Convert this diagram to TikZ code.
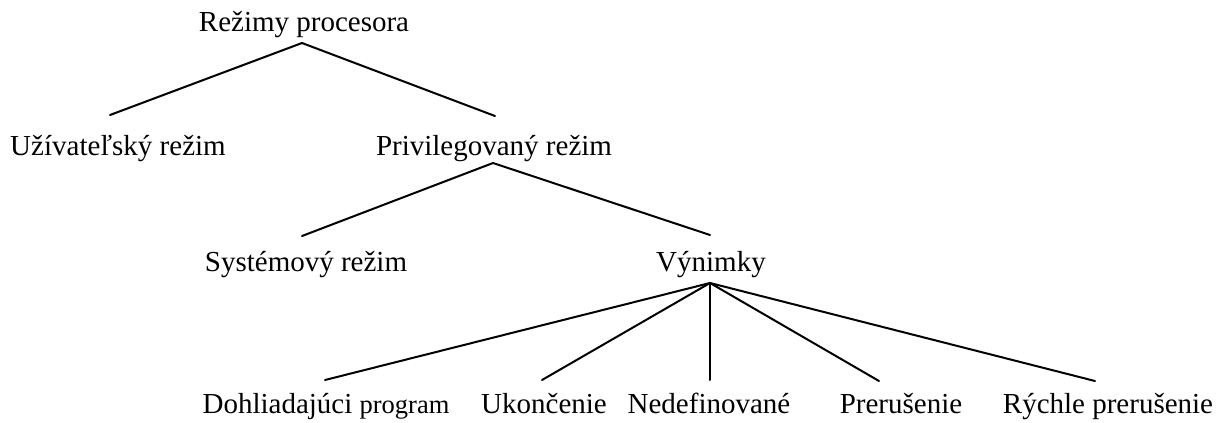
\documentclass[tikz,border=0pt]{standalone}
\usepackage{fontspec}
\setmainfont{Liberation Serif}
\begin{document}
\begin{tikzpicture}[x=1pt,y=-1pt,
  lbl/.style={inner sep=0pt,anchor=base,font=\fontsize{29}{34}\selectfont},
  link/.style={line width=2pt,line cap=round}]
\useasboundingbox (0,0) rectangle (1221,423);
% labels, placed by their baselines
\node[lbl] (root) at (304,31) {Režimy procesora};
\node[lbl] (user) at (118,155) {Užívateľský režim};
\node[lbl] (priv) at (494,155) {Privilegovaný režim};
\node[lbl] (sys)  at (306,271) {Systémový režim};
\node[lbl] (exc)  at (711,271) {Výnimky};
\node[lbl] (sup)  at (326,413) {Dohliadajúci {\fontsize{26.5}{31}\selectfont program}};
\node[lbl] (abrt) at (544,413) {Ukončenie};
\node[lbl] (und)  at (709,413) {Nedefinované};
\node[lbl] (irq)  at (901,413) {Prerušenie};
\node[lbl] (fiq)  at (1108,413) {Rýchle prerušenie};
% branches (yshift is in page direction: negative = downwards)
\draw[link] ([xshift=-2pt,yshift=-12pt]root.base) -- ([xshift=-8pt,yshift=40pt]user.base);
\draw[link] ([xshift=-2pt,yshift=-12pt]root.base) -- ([xshift=1pt,yshift=39pt]priv.base);
\draw[link] ([xshift=-1pt,yshift=-8pt]priv.base) -- ([xshift=-4pt,yshift=35pt]sys.base);
\draw[link] ([xshift=-1pt,yshift=-8pt]priv.base) -- ([xshift=-1pt,yshift=36pt]exc.base);
\draw[link] ([xshift=-1pt,yshift=-12pt]exc.base) -- ([xshift=-1pt,yshift=33pt]sup.base);
\draw[link] ([xshift=-1pt,yshift=-12pt]exc.base) -- ([xshift=-2pt,yshift=33pt]abrt.base);
\draw[link] ([xshift=-1pt,yshift=-12pt]exc.base) -- ([xshift=1pt,yshift=33pt]und.base);
\draw[link] ([xshift=-1pt,yshift=-12pt]exc.base) -- ([xshift=-22pt,yshift=32pt]irq.base);
\draw[link] ([xshift=-1pt,yshift=-12pt]exc.base) -- ([xshift=-13pt,yshift=32pt]fiq.base);
\end{tikzpicture}
\end{document}
